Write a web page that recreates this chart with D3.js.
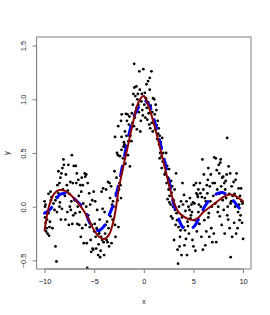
<!DOCTYPE html>
<html><head><meta charset="utf-8">
<script src="https://cdn.jsdelivr.net/npm/d3@7"></script>
<style>body{margin:0;background:#fff}</style>
</head><body>
<svg id="c" width="270" height="315"></svg>
<script>
const points = [
[-10.0,0.05],[-9.9,0.02],[-9.95,0.0],[-9.95,-0.1],[-9.9,-0.15],[-9.8,-0.2],[-9.85,-0.23],[-9.7,-0.25],[-9.55,-0.27],[-9.5,-0.19],[-9.45,-0.14],[-9.6,0.12],[-9.4,0.14],[-9.3,0.09],[-9.1,0.03],[-9.0,-0.03],[-8.9,-0.37],[-8.8,-0.51],[-9.2,-0.2],[-9.6,-0.06],[-9.75,-0.12],[-9.35,0.06],
[-8.9,0.06],[-8.8,0.09],[-8.7,0.2],[-8.6,0.125],[-8.5,0.22],[-8.4,0.27],[-8.3,0.31],[-8.2,0.36],[-8.1,0.44],[-8.05,0.39],[-8.5,0.0],[-8.75,-0.05],[-8.35,-0.12],[-8.15,0.16],[-8.6,0.33],[-8.25,-0.02],[-8.45,0.04],
[-7.95,0.1],[-7.85,0.3],[-7.75,0.2],[-7.6,0.39],[-7.5,0.12],[-7.4,0.23],[-7.3,0.05],[-7.25,0.48],[-7.15,0.22],[-7.05,0.38],[-7.9,-0.12],[-7.7,-0.05],[-7.55,-0.17],[-7.35,-0.03],[-7.2,-0.16],[-7.65,0.15],[-7.45,0.0],[-7.1,-0.08],
[-6.95,0.06],[-6.85,0.38],[-6.75,0.31],[-6.6,0.25],[-6.5,-0.17],[-6.4,0.2],[-6.3,0.14],[-6.2,-0.2],[-6.1,0.03],[-6.05,-0.34],[-6.9,-0.06],[-6.7,-0.16],[-6.55,0.1],[-6.35,-0.28],[-6.15,0.2],[-6.45,-0.05],[-6.25,0.27],[-6.8,0.22],[-6.65,0.0],
[-5.95,0.31],[-5.9,0.28],[-5.8,0.3],[-5.75,-0.34],[-5.65,0.22],[-5.6,-0.08],[-5.5,0.125],[-5.4,0.02],[-5.35,-0.31],[-5.25,-0.17],[-5.2,0.06],[-5.15,-0.39],[-5.1,-0.4],[-5.05,0.14],[-5.85,-0.17],[-5.7,-0.57],[-5.45,-0.19],[-5.3,-0.42],[-5.0,-0.23],[-5.55,-0.12],[-5.8,0.0],
[-4.95,-0.16],[-4.9,0.05],[-4.8,-0.39],[-4.75,-0.2],[-4.7,-0.03],[-4.6,-0.45],[-4.5,-0.23],[-4.45,-0.12],[-4.4,-0.47],[-4.3,-0.28],[-4.25,0.14],[-4.2,-0.31],[-4.1,0.17],[-4.05,-0.33],[-4.0,-0.45],[-4.85,-0.28],[-4.65,-0.22],[-4.35,-0.41],[-4.55,-0.35],[-4.15,-0.02],[-4.5,-0.25],
[-3.95,-0.05],[-3.9,-0.25],[-3.8,0.16],[-3.75,-0.31],[-3.7,-0.14],[-3.6,0.23],[-3.55,-0.2],[-3.5,-0.37],[-3.4,0.08],[-3.35,-0.09],[-3.3,0.19],[-3.25,-0.34],[-3.2,0.02],[-3.1,0.05],[-3.05,0.0],[-3.85,-0.17],[-3.65,-0.33],[-3.45,0.22],[-3.15,-0.12],
[-2.95,0.33],[-2.9,-0.17],[-2.8,0.125],[-2.75,0.27],[-2.7,0.5],[-2.6,0.48],[-2.55,-0.19],[-2.5,0.16],[-2.45,0.22],[-2.4,0.47],[-2.3,0.08],[-2.25,0.53],[-2.2,0.34],[-2.1,0.45],[-2.05,0.56],[-2.85,-0.28],[-2.65,0.06],[-2.35,0.2],[-2.15,0.37],[-2.0,0.6],[-2.9,0.65],[-2.58,0.75],[-2.3,0.8],[-2.24,0.65],[-2.22,0.86],
[-1.95,0.58],[-1.9,0.7],[-1.85,0.4],[-1.8,0.865],[-1.75,0.66],[-1.7,0.8],[-1.6,0.48],[-1.55,0.61],[-1.5,0.765],[-1.45,0.84],[-1.4,0.375],[-1.3,0.73],[-1.25,0.61],[-1.2,0.87],[-1.15,0.78],[-1.1,0.95],[-1.05,1.05],[-1.0,0.75],[-1.9,0.56],[-1.65,0.86],[-1.35,0.66],
[-0.95,1.11],[-0.9,0.83],[-0.85,1.03],[-0.8,0.89],[-0.75,1.12],[-0.7,0.72],[-0.6,1.05],[-0.55,0.95],[-0.5,0.88],[-0.45,1.26],[-0.4,1.09],[-0.3,0.8],[-0.25,0.98],[-0.2,1.05],[-0.15,0.9],[-0.1,0.85],[-0.05,1.28],[-0.97,1.33],[-0.73,0.92],[-0.35,0.7],[-0.65,1.0],
[0.05,0.95],[0.1,1.06],[0.15,0.83],[0.2,1.01],[0.27,1.14],[0.3,0.92],[0.35,0.81],[0.43,1.17],[0.5,0.87],[0.55,0.765],[0.6,1.2],[0.65,0.73],[0.7,0.94],[0.77,1.26],[0.8,0.78],[0.85,0.88],[0.9,0.7],[0.94,1.01],[0.6,1.09],[0.25,0.99],[0.45,0.97],
[1.05,1.0],[1.1,0.86],[1.2,0.95],[1.27,0.9],[1.3,0.76],[1.4,0.8],[1.45,0.68],[1.5,0.73],[1.55,0.58],[1.6,0.66],[1.65,0.5],[1.7,0.6],[1.75,0.55],[1.8,0.47],[1.85,0.64],[1.9,0.42],[1.95,0.5],[1.15,0.72],[1.35,0.63],[1.6,0.45],[1.8,0.36],
[2.05,0.44],[2.1,0.3],[2.15,0.41],[2.2,0.32],[2.25,0.5],[2.3,0.22],[2.35,0.38],[2.4,0.07],[2.45,0.27],[2.5,0.16],[2.55,0.35],[2.6,0.1],[2.65,0.2],[2.7,0.02],[2.75,-0.09],[2.8,0.13],[2.85,0.19],[2.9,-0.11],[2.95,0.0],[2.58,0.04],[2.3,0.35],[2.75,0.24],
[3.0,0.06],[3.05,-0.31],[3.1,0.16],[3.15,-0.03],[3.2,-0.17],[3.25,0.31],[3.3,-0.06],[3.35,-0.125],[3.4,-0.4],[3.45,-0.53],[3.5,-0.19],[3.55,0.0],[3.6,-0.37],[3.7,-0.22],[3.75,0.05],[3.8,-0.45],[3.9,0.22],[3.95,0.02],[3.85,-0.1],[3.65,-0.28],
[4.0,-0.19],[4.05,0.11],[4.1,-0.36],[4.15,-0.22],[4.2,-0.04],[4.3,0.05],[4.35,-0.45],[4.4,-0.14],[4.5,0.0],[4.55,-0.25],[4.6,-0.03],[4.7,-0.11],[4.75,-0.08],[4.8,0.02],[4.9,-0.31],[4.95,0.04],[4.25,-0.3],[4.45,-0.18],[4.65,0.08],[4.85,-0.05],
[5.0,-0.37],[5.05,0.2],[5.1,0.03],[5.2,-0.41],[5.25,0.22],[5.3,0.125],[5.35,-0.23],[5.4,0.11],[5.45,0.09],[5.5,-0.05],[5.55,0.02],[5.6,-0.16],[5.65,0.22],[5.7,0.125],[5.8,-0.28],[5.85,0.09],[5.9,0.44],[5.95,-0.4],[5.15,-0.125],[5.75,0.0],[5.5,0.16],
[6.0,0.16],[6.05,0.3],[6.1,-0.125],[6.15,0.08],[6.2,-0.36],[6.25,0.05],[6.3,-0.23],[6.35,0.2],[6.4,0.125],[6.45,0.25],[6.5,0.36],[6.55,-0.06],[6.6,-0.28],[6.65,0.19],[6.7,0.05],[6.75,0.3],[6.8,-0.2],[6.85,0.0],[6.9,-0.33],[6.95,0.22],[6.5,-0.1],
[7.0,0.1],[7.05,-0.25],[7.1,0.46],[7.15,0.22],[7.2,0.03],[7.25,0.45],[7.3,-0.33],[7.35,0.34],[7.4,0.16],[7.5,0.0],[7.55,0.39],[7.6,0.31],[7.65,-0.09],[7.7,0.41],[7.75,0.44],[7.8,0.19],[7.85,-0.17],[7.9,0.27],[7.95,0.06],[7.45,-0.05],[7.6,0.12],
[8.0,0.28],[8.05,-0.03],[8.1,0.22],[8.15,-0.25],[8.2,0.16],[8.3,0.08],[8.35,0.3],[8.4,0.64],[8.45,0.0],[8.5,-0.12],[8.55,0.375],[8.6,0.12],[8.65,-0.2],[8.7,0.31],[8.75,-0.47],[8.8,0.05],[8.85,0.19],[8.9,-0.28],[8.95,0.1],[8.4,-0.08],[8.74,0.03],[8.25,0.24],
[9.0,0.05],[9.05,0.23],[9.1,-0.15],[9.15,0.12],[9.2,0.0],[9.25,0.25],[9.3,-0.25],[9.35,0.31],[9.4,0.08],[9.5,-0.05],[9.55,0.17],[9.6,0.02],[9.65,-0.125],[9.7,0.1],[9.75,-0.08],[9.8,0.17],[9.85,0.05],[9.9,-0.15],[9.95,0.03],[10.0,-0.3],[9.45,-0.2]
];
const curveX = [-10,-9.5,-9,-8.5,-8,-7.5,-7,-6.5,-6,-5.5,-5,-4.5,-4,-3.5,-3,-2.5,-2,-1.5,-1,-0.5,0,0.5,1,1.5,2,2.5,3,3.5,4,4.5,5,5.5,6,6.5,7,7.5,8,8.5,9,9.5,10];
const redY = [-0.22,0.02,0.125,0.155,0.15,0.12,0.075,0.02,-0.045,-0.13,-0.22,-0.28,-0.3,-0.26,-0.11,0.18,0.4,0.61,0.82,0.98,1.03,0.93,0.78,0.6,0.41,0.22,0.05,-0.05,-0.09,-0.115,-0.125,-0.1,-0.05,-0.015,0.02,0.055,0.09,0.11,0.11,0.085,0.05];
const blueY = [-0.06,-0.03,0.03,0.11,0.125,0.12,0.075,0.03,-0.02,-0.14,-0.21,-0.22,-0.18,-0.08,0.04,0.22,0.45,0.67,0.84,0.93,0.99,0.95,0.82,0.65,0.46,0.26,0.03,-0.11,-0.2,-0.21,-0.19,-0.12,-0.02,0.05,0.1,0.125,0.13,0.1,0.06,0.0,-0.05];
const xTicks = [-10,-5,0,5,10];
const yTicks = [-0.5,0.0,0.5,1.0,1.5];
const xTitle = "x", yTitle = "y";

const svg = d3.select("#c");
const L=36.6, R=251, T=37, B=269;
const x = d3.scaleLinear().domain([-10.8,10.8]).range([L,R]);
const y = d3.scaleLinear().domain([-0.58,1.58]).range([B,T]);
const font = "'Liberation Sans', Arial, sans-serif";

svg.append("defs").append("clipPath").attr("id","clip")
  .append("rect").attr("x",L).attr("y",T).attr("width",R-L).attr("height",B-T);

const plot = svg.append("g").attr("clip-path","url(#clip)");
plot.selectAll("circle").data(points).join("circle")
  .attr("cx",d=>x(d[0])).attr("cy",d=>y(d[1])).attr("r",1.4).attr("fill","#000");

const line = d3.line().x(d=>x(d[0])).y(d=>y(d[1])).curve(d3.curveCatmullRom);
plot.append("path").datum(curveX.map((v,i)=>[v,blueY[i]]))
  .attr("d",line).attr("fill","none").attr("stroke","#0000ff").attr("stroke-width",3)
  .attr("stroke-dasharray","9.5,11").attr("stroke-linecap","round");
plot.append("path").datum(curveX.map((v,i)=>[v,redY[i]]))
  .attr("d",line).attr("fill","none").attr("stroke","#8b0000").attr("stroke-width",2)
  .attr("stroke-linecap","round");

svg.append("rect").attr("x",L).attr("y",T).attr("width",R-L).attr("height",B-T)
  .attr("fill","none").attr("stroke","#808080").attr("stroke-width",1);

const xa = svg.append("g").attr("transform",`translate(0,${B})`)
  .call(d3.axisBottom(x).tickValues(xTicks).tickSize(4).tickPadding(6).tickFormat(d3.format("d")));
xa.select(".domain").attr("stroke","#808080").attr("d",`M${x(-10)},0H${x(10)}`);
xa.selectAll(".tick line").attr("stroke","#808080");
xa.selectAll("text").attr("font-family",font).attr("font-size",7.5).attr("fill","#222");

const ya = svg.append("g").attr("transform",`translate(${L},0)`)
  .call(d3.axisLeft(y).tickValues(yTicks).tickSize(4).tickFormat(d3.format(".1f")));
ya.select(".domain").attr("stroke","#808080").attr("d",`M0,${y(-0.5)}V${y(1.5)}`);
ya.selectAll(".tick line").attr("stroke","#808080");
ya.selectAll("text").attr("font-family",font).attr("font-size",7.5).attr("fill","#222")
  .attr("text-anchor","middle").attr("x",0).attr("dy",0)
  .attr("transform","translate(-10.5,0) rotate(-90)");

svg.append("text").attr("x",(L+R)/2).attr("y",304).attr("text-anchor","middle")
  .attr("font-family",font).attr("font-size",7.5).attr("fill","#222").text(xTitle);
svg.append("text").attr("transform",`translate(9,${(T+B)/2}) rotate(-90)`).attr("text-anchor","middle")
  .attr("font-family",font).attr("font-size",7.5).attr("fill","#222").text(yTitle);
</script>
</body></html>
